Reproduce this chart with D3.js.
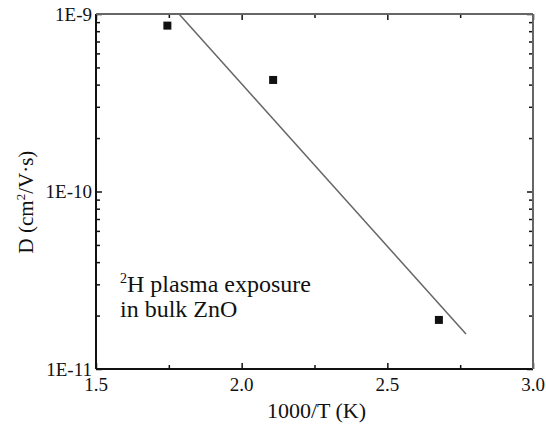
<!DOCTYPE html>
<html><head><meta charset="utf-8">
<script src="https://cdn.jsdelivr.net/npm/d3@7"></script>
<style>body{margin:0;background:#fff}svg{display:block}</style>
</head><body>
<svg id="c" width="546" height="428" font-family="'Liberation Serif', Tinos, 'Times New Roman', Times, 'DejaVu Serif', serif"></svg>
<script>
const pointsX = [1.745, 2.108, 2.677];
const pointsY = [8.6e-10, 4.25e-10, 1.89e-11];
const fitX = [1.785, 2.770];
const fitY = [1.0e-9, 1.574e-11];
const xTicks = [1.5, 2.0, 2.5, 3.0];
const xMinor = [1.75, 2.25, 2.75];
const yTicks = [1e-11, 1e-10, 1e-9];
const yTickLabels = ["1E-11", "1E-10", "1E-9"];

const svg = d3.select("#c");
const L = 96, R = 533, T = 14, B = 369;
const x = d3.scaleLinear().domain([1.5, 3.0]).range([L, R]);
const y = d3.scaleLog().domain([1e-11, 1e-9]).range([B, T]);

const yMinor = [];
[1e-11, 1e-10].forEach(d => { for (let k = 2; k <= 9; k++) yMinor.push(d * k); });

const g = svg.append("g");
g.append("path")
  .datum(fitX.map((d, i) => [d, fitY[i]]))
  .attr("d", d3.line().x(d => x(d[0])).y(d => y(d[1])))
  .attr("fill", "none").attr("stroke", "#666").attr("stroke-width", 1.5);

g.selectAll("rect.pt").data(pointsX.map((d, i) => [d, pointsY[i]])).enter()
  .append("rect").attr("class", "pt")
  .attr("x", d => x(d[0]) - 4).attr("y", d => y(d[1]) - 4)
  .attr("width", 8).attr("height", 8).attr("fill", "#111");

const ax = svg.append("g");
function tickSet(axisFn, scale, vals, len, transform) {
  ax.append("g").attr("transform", transform)
    .call(axisFn(scale).tickValues(vals).tickSize(len).tickFormat(""))
    .call(s => { s.select(".domain").remove(); s.selectAll("line").attr("stroke", "#111").attr("stroke-width", 1.5); });
}
tickSet(d3.axisTop, x, xTicks, 6, `translate(0,${B})`);
tickSet(d3.axisTop, x, xMinor, 4, `translate(0,${B})`);
tickSet(d3.axisBottom, x, xTicks, 6, `translate(0,${T})`);
tickSet(d3.axisBottom, x, xMinor, 4, `translate(0,${T})`);
tickSet(d3.axisRight, y, yTicks, 6, `translate(${L},0)`);
tickSet(d3.axisRight, y, yMinor, 4, `translate(${L},0)`);
tickSet(d3.axisLeft, y, yTicks, 6, `translate(${R},0)`);
tickSet(d3.axisLeft, y, yMinor, 4, `translate(${R},0)`);

ax.append("line").attr("x1", L).attr("x2", R).attr("y1", B).attr("y2", B).attr("stroke", "#111").attr("stroke-width", 2);
ax.append("line").attr("x1", L).attr("x2", L).attr("y1", T).attr("y2", B).attr("stroke", "#111").attr("stroke-width", 2);
ax.append("line").attr("x1", L).attr("x2", R).attr("y1", T).attr("y2", T).attr("stroke", "#666").attr("stroke-width", 2);
ax.append("line").attr("x1", R).attr("x2", R).attr("y1", T).attr("y2", B).attr("stroke", "#666").attr("stroke-width", 2);

const txt = "#111";
svg.selectAll("text.xl").data(xTicks).enter().append("text")
  .attr("x", d => x(d)).attr("y", 391).attr("text-anchor", "middle").attr("fill", txt)
  .attr("font-size", 19).text(d => d.toFixed(1));
svg.selectAll("text.yl").data(yTicks).enter().append("text")
  .attr("x", L - 4).attr("y", d => y(d) + 6.5).attr("text-anchor", "end").attr("fill", txt)
  .attr("font-size", 19).text((d, i) => yTickLabels[i]);

svg.append("text").attr("x", (L + R) / 2 + 2).attr("y", 418).attr("text-anchor", "middle").attr("fill", txt)
  .attr("font-size", 22).text("1000/T (K)");
const yl = svg.append("text").attr("transform", "translate(33,202) rotate(-90)").attr("fill", txt)
  .attr("text-anchor", "middle").attr("font-size", 21);
yl.append("tspan").text("D (cm");
yl.append("tspan").attr("font-size", 13).attr("dy", -8).text("2");
yl.append("tspan").attr("dy", 8).text("/V·s)");

const a1 = svg.append("text").attr("x", 120).attr("y", 292).attr("font-size", 24).attr("fill", txt);
a1.append("tspan").attr("font-size", 14).attr("dy", -9).text("2");
a1.append("tspan").attr("dy", 9).text("H plasma exposure");
svg.append("text").attr("x", 120).attr("y", 317).attr("font-size", 24).attr("fill", txt).text("in bulk ZnO");
</script>
</body></html>
